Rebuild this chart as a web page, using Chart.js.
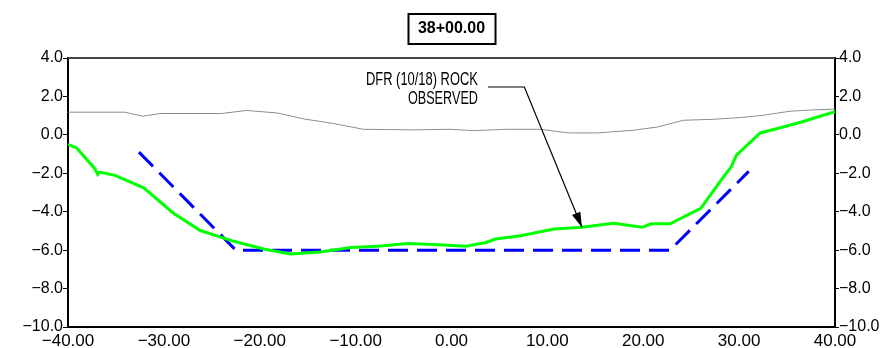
<!DOCTYPE html>
<html>
<head>
<meta charset="utf-8">
<script src="https://cdn.jsdelivr.net/npm/chart.js@4"></script>
<style>
  body { margin: 0; background: #fff; }
  canvas { display: block; }
</style>
</head>
<body>
<canvas id="myChart" width="882" height="348"></canvas>
<script>
// offsets (ft) and elevations read from the section
var groundX = [-40, -34.1, -32.2, -30.4, -24.0, -21.4, -18.2, -15.4, -12.3, -9.2, -4.0, -0.1, 2.3, 5.8, 9.3, 12.2, 15.2, 19.0, 21.5, 24.2, 27.3, 30.1, 32.5, 35.3, 37.7, 40];
var groundY = [1.18, 1.18, 0.97, 1.11, 1.11, 1.27, 1.14, 0.83, 0.59, 0.29, 0.26, 0.29, 0.22, 0.29, 0.29, 0.10, 0.10, 0.24, 0.41, 0.76, 0.81, 0.90, 1.02, 1.23, 1.30, 1.34];

var rockX = [-40, -39.1, -37.2, -36.9, -36.7, -35.1, -32.1, -29.0, -26.2, -22.7, -19.6, -16.8, -13.7, -10.5, -7.7, -4.6, -1.8, 1.5, 3.6, 4.6, 7.2, 10.7, 13.6, 16.9, 19.9, 20.8, 22.8, 26.0, 28.1, 29.2, 29.7, 32.2, 34.4, 36.5, 40];
var rockY = [-0.49, -0.68, -1.76, -2.06, -1.94, -2.11, -2.76, -4.08, -4.98, -5.54, -5.94, -6.20, -6.10, -5.86, -5.80, -5.65, -5.70, -5.80, -5.60, -5.42, -5.25, -4.90, -4.81, -4.60, -4.81, -4.63, -4.63, -3.82, -2.37, -1.64, -1.07, 0.10, 0.38, 0.67, 1.20];

var designX = [-32.6, -22.5, 22.8, 31.0];
var designY = [-0.9, -6.0, -6.0, -1.9];

var stationLabel = '38+00.00';
var noteLines = ['DFR (10/18) ROCK', 'OBSERVED'];
// leader: start, elbow, arrow tip (data units)
var leaderX = [3.8, 7.6, 13.6];
var leaderY = [2.49, 2.49, -4.81];

var FONT = "'Liberation Sans', Arial, sans-serif";

const toPts = function (xs, ys) {
  return xs.map(function (x, i) { return { x: x, y: ys[i] }; });
}

const fmtY = function (v) {
  return (v < 0 ? '\u2212' : '') + Math.abs(v).toFixed(1);
}
const fmtX = function (v) {
  return (v < 0 ? '\u2212' : '') + Math.abs(v).toFixed(2);
}

var sectionDeco = {
  id: 'sectionDeco',
  afterDraw: function (chart) {
    var c = chart.ctx, a = chart.chartArea;
    var xs = chart.scales.x, ys = chart.scales.y;
    c.save();
    // top frame line
    c.strokeStyle = '#444';
    c.lineWidth = 2;
    c.beginPath();
    c.moveTo(a.left, a.top);
    c.lineTo(a.right, a.top);
    c.stroke();

    // station box
    c.font = 'bold 16px ' + FONT;
    c.textAlign = 'center';
    c.textBaseline = 'middle';
    c.fillStyle = '#000';
    var cx = (a.left + a.right) / 2;
    c.fillText(stationLabel, cx, 29);
    c.lineWidth = 2;
    c.strokeStyle = '#000';
    c.strokeRect(cx - 43, 14, 87, 30);

    // note + leader arrow
    var px = leaderX.map(function (v) { return xs.getPixelForValue(v); });
    var py = leaderY.map(function (v) { return ys.getPixelForValue(v); });
    c.font = '18px ' + FONT;
    c.textAlign = 'right';
    c.textBaseline = 'middle';
    c.fillText(noteLines[0], px[0] - 10, py[0] - 7, 112);
    c.fillText(noteLines[1], px[0] - 10, py[0] + 12, 70);

    c.lineWidth = 1.2;
    c.beginPath();
    c.moveTo(px[0], py[0]);
    c.lineTo(px[1], py[1]);
    c.lineTo(px[2], py[2]);
    c.stroke();
    var ang = Math.atan2(py[2] - py[1], px[2] - px[1]);
    var L = 15, W = 4.5;
    c.beginPath();
    c.moveTo(px[2], py[2]);
    c.lineTo(px[2] - L * Math.cos(ang) + W * Math.sin(ang), py[2] - L * Math.sin(ang) - W * Math.cos(ang));
    c.lineTo(px[2] - L * Math.cos(ang) - W * Math.sin(ang), py[2] - L * Math.sin(ang) + W * Math.cos(ang));
    c.closePath();
    c.fill();
    c.restore();
  }
};

var ctx = document.getElementById('myChart');

var myChart = new Chart(ctx, {
  type: 'scatter',
  data: {
    datasets: [
      {
        label: 'Existing ground',
        data: toPts(groundX, groundY),
        showLine: true,
        borderColor: '#8c8c8c',
        borderWidth: 1,
        pointRadius: 0
      },
      {
        label: 'Rock observed',
        data: toPts(rockX, rockY),
        showLine: true,
        borderColor: '#00ff00',
        borderWidth: 3,
        pointRadius: 0
      },
      {
        label: 'Design',
        data: toPts(designX, designY),
        showLine: true,
        borderColor: '#0000ff',
        borderWidth: 3,
        borderDash: [20, 9],
        pointRadius: 0
      }
    ]
  },
  options: {
    responsive: false,
    animation: false,
    devicePixelRatio: 1,
    layout: { padding: { top: 58, left: 0, right: 0, bottom: 0 } },
    plugins: {
      legend: { display: false },
      tooltip: { enabled: false }
    },
    scales: {
      x: {
        type: 'linear',
        min: -40,
        max: 40,
        afterFit: function (s) { s.height = 21; },
        border: { display: true, color: '#000', width: 2 },
        grid: { drawOnChartArea: false, drawTicks: false },
        ticks: {
          stepSize: 10,
          padding: 4,
          color: '#000',
          font: { family: FONT, size: 17 },
          maxRotation: 0,
          callback: fmtX
        }
      },
      y: {
        position: 'left',
        min: -10,
        max: 4,
        afterFit: function (s) { s.width = 68; },
        border: { display: true, color: '#000', width: 2 },
        grid: { drawOnChartArea: false, drawTicks: true, tickLength: 5, color: '#000' },
        ticks: {
          stepSize: 2,
          padding: 0,
          color: '#000',
          font: { family: FONT, size: 16 },
          callback: fmtY
        }
      },
      y2: {
        position: 'right',
        min: -10,
        max: 4,
        afterFit: function (s) { s.width = 47; },
        border: { display: true, color: '#000', width: 2 },
        grid: { drawOnChartArea: false, drawTicks: true, tickLength: 4, color: '#000' },
        ticks: {
          stepSize: 2,
          padding: 0,
          color: '#000',
          font: { family: FONT, size: 16 },
          callback: fmtY
        }
      }
    }
  },
  plugins: [sectionDeco]
});
</script>
</body>
</html>
